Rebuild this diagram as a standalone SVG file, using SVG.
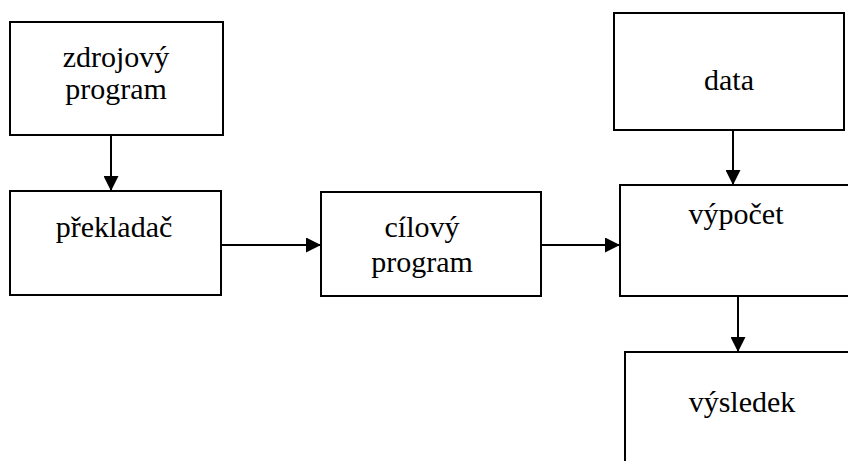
<svg xmlns="http://www.w3.org/2000/svg" width="848" height="461" viewBox="0 0 848 461">
<defs>
<style>
.box{fill:#fff;stroke:#000;stroke-width:2}
text{font-family:"Liberation Serif","Times New Roman",Times,"DejaVu Serif","Noto Serif",serif;font-size:30px;fill:#000;text-anchor:middle}
.con{stroke:#000;stroke-width:2;fill:none;marker-end:url(#arr)}
</style>
<marker id="arr" markerUnits="userSpaceOnUse" markerWidth="15" markerHeight="15" viewBox="0 0 15 15" refX="15" refY="7.5" orient="auto">
<path d="M0,0 L15,7.5 L0,15 Z" fill="#000"/>
</marker>
</defs>
<rect width="848" height="461" fill="#fff"/>
<g id="zdrojovy">
<rect class="box" x="10" y="22" width="213" height="113"/>
<text x="116" y="67" style="font-family:'Liberation Serif',serif">zdrojový</text>
<text x="116" y="99" style="font-family:'Liberation Serif',serif">program</text>
</g>
<g id="prekladac">
<rect class="box" x="10" y="191" width="211" height="104"/>
<text x="114" y="237" style="font-family:'Liberation Serif',serif">překladač</text>
</g>
<g id="cilovy">
<rect class="box" x="321" y="192" width="220" height="104"/>
<text x="422" y="237" style="font-family:'Liberation Serif',serif">cílový</text>
<text x="422" y="272" style="font-family:'Liberation Serif',serif">program</text>
</g>
<g id="data">
<rect class="box" x="614" y="13" width="230" height="117"/>
<text x="729" y="90" style="font-family:'Liberation Serif',serif">data</text>
</g>
<g id="vypocet">
<rect class="box" x="620" y="185" width="260" height="111"/>
<text x="736" y="224" style="font-family:'Liberation Serif',serif">výpočet</text>
</g>
<g id="vysledek">
<rect class="box" x="625" y="352" width="260" height="140"/>
<text x="742" y="412" style="font-family:'Liberation Serif',serif">výsledek</text>
</g>
<g id="connectors">
<line class="con" x1="111" y1="135" x2="111" y2="191"/>
<line class="con" x1="221" y1="245" x2="321" y2="245"/>
<line class="con" x1="541" y1="245" x2="620" y2="245"/>
<line class="con" x1="733" y1="130" x2="733" y2="185"/>
<line class="con" x1="738" y1="296" x2="738" y2="352"/>
</g>
</svg>
